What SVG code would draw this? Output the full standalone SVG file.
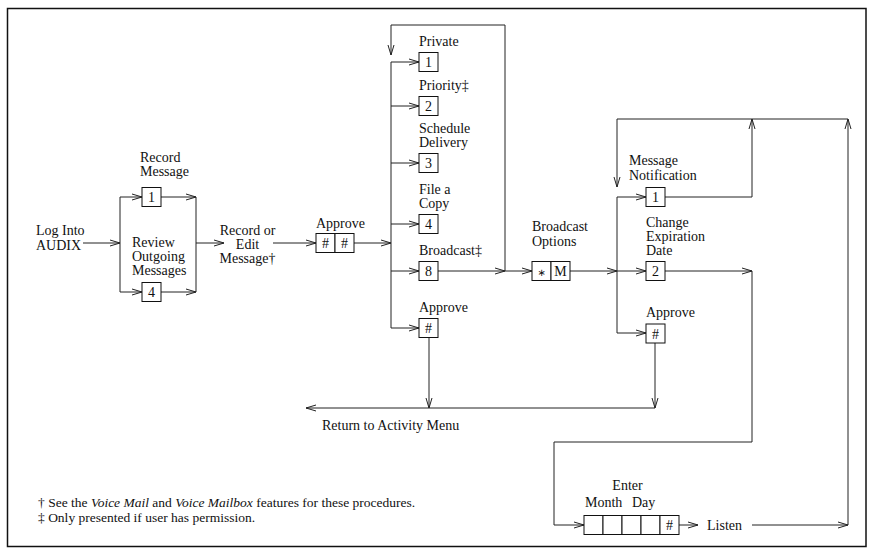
<svg xmlns="http://www.w3.org/2000/svg" width="874" height="554" viewBox="0 0 874 554">
<defs>
<style>
text{font-family:"Liberation Serif","Times New Roman",serif;font-size:14px;fill:#111}
.c{text-anchor:middle}
.fn{font-size:13.5px}
.box{fill:#fff;stroke:#111;stroke-width:1}
.ln{fill:none;stroke:#222;stroke-width:1}
</style>
<marker id="a" viewBox="-11 -4 12 8" refX="0" refY="0" markerWidth="12" markerHeight="8" orient="auto" markerUnits="userSpaceOnUse">
<path d="M-10,-3 L0,0 L-10,3" fill="none" stroke="#222" stroke-width="1"/>
</marker>
</defs>
<rect x="7.5" y="8.5" width="858.5" height="538" fill="#fff" stroke="#111" stroke-width="1.5"/>

<g id="connectors" class="ln">
<path d="M83,243 L120,243" marker-end="url(#a)"/>
<path d="M120,197 L120,292"/>
<path d="M120,197 L142,197" marker-end="url(#a)"/>
<path d="M120,292 L142,292" marker-end="url(#a)"/>
<path d="M161,197 L196,197" marker-end="url(#a)"/>
<path d="M161,292 L196,292" marker-end="url(#a)"/>
<path d="M196,197 L196,292"/>
<path d="M196,243 L224,243" marker-end="url(#a)"/>
<path d="M273,243 L316,243" marker-end="url(#a)"/>
<path d="M354,243 L391,243" marker-end="url(#a)"/>
<path d="M391,62 L391,328"/>
<path d="M391,62 L419,62" marker-end="url(#a)"/>
<path d="M391,106 L419,106" marker-end="url(#a)"/>
<path d="M391,163 L419,163" marker-end="url(#a)"/>
<path d="M391,224 L419,224" marker-end="url(#a)"/>
<path d="M391,271 L419,271" marker-end="url(#a)"/>
<path d="M391,328 L419,328" marker-end="url(#a)"/>
<path d="M438,271 L505,271" marker-end="url(#a)"/>
<path d="M505,271 L532,271" marker-end="url(#a)"/>
<path d="M505,271 L505,25 L391,25 L391,55" marker-end="url(#a)"/>
<path d="M429,337.5 L429,408" marker-end="url(#a)"/>
<path d="M655,408 L306,408" marker-end="url(#a)"/>
<path d="M570,271 L617,271" marker-end="url(#a)"/>
<path d="M617,271 L646,271" marker-end="url(#a)"/>
<path d="M617,197 L617,333"/>
<path d="M617,197 L646,197" marker-end="url(#a)"/>
<path d="M617,333 L646,333" marker-end="url(#a)"/>
<path d="M665,197 L752,197 L752,119" marker-end="url(#a)"/>
<path d="M848,119 L617,119 L617,187" marker-end="url(#a)"/>
<path d="M665,271 L752,271" marker-end="url(#a)"/>
<path d="M752,271 L752,442 L554,442 L554,525 L584,525" marker-end="url(#a)"/>
<path d="M655,343 L655,408" marker-end="url(#a)"/>
<path d="M679,525 L698,525" marker-end="url(#a)"/>
<path d="M752,525 L848,525" marker-end="url(#a)"/>
<path d="M848,525 L848,119" marker-end="url(#a)"/>
</g>

<g id="login"><text x="36" y="235">Log Into</text><text x="36" y="250">AUDIX</text></g>

<g id="record-message">
<text x="140" y="162">Record</text><text x="140" y="176">Message</text>
<rect class="box" x="142" y="187.5" width="19" height="19"/><text class="c" x="151.5" y="202">1</text>
</g>
<g id="review-outgoing">
<text x="132" y="247">Review</text><text x="132" y="261">Outgoing</text><text x="132" y="275">Messages</text>
<rect class="box" x="142" y="282.5" width="19" height="19"/><text class="c" x="151.5" y="297">4</text>
</g>
<g id="record-edit"><text class="c" x="247.5" y="235">Record or</text><text class="c" x="247.5" y="249">Edit</text><text class="c" x="247.5" y="263">Message†</text></g>
<g id="approve1">
<text x="316" y="228">Approve</text>
<rect class="box" x="316" y="233.5" width="19" height="19"/><text class="c" x="325.5" y="248">#</text>
<rect class="box" x="335" y="233.5" width="19" height="19"/><text class="c" x="344.5" y="248">#</text>
</g>

<g id="private"><text x="419" y="46">Private</text><rect class="box" x="419" y="52.5" width="19" height="19"/><text class="c" x="428.5" y="67">1</text></g>
<g id="priority"><text x="419" y="90">Priority‡</text><rect class="box" x="419" y="96.5" width="19" height="19"/><text class="c" x="428.5" y="111">2</text></g>
<g id="schedule"><text x="419" y="133">Schedule</text><text x="419" y="147">Delivery</text><rect class="box" x="419" y="153.5" width="19" height="19"/><text class="c" x="428.5" y="168">3</text></g>
<g id="filecopy"><text x="419" y="194">File a</text><text x="419" y="208">Copy</text><rect class="box" x="419" y="214.5" width="19" height="19"/><text class="c" x="428.5" y="229">4</text></g>
<g id="broadcast"><text x="419" y="255">Broadcast‡</text><rect class="box" x="419" y="261.5" width="19" height="19"/><text class="c" x="428.5" y="276">8</text></g>
<g id="approve2"><text x="419" y="312">Approve</text><rect class="box" x="419" y="318.5" width="19" height="19"/><text class="c" x="428.5" y="333">#</text></g>

<g id="broadcast-options">
<text x="532" y="231">Broadcast</text><text x="532" y="246">Options</text>
<rect class="box" x="532" y="261.5" width="19" height="19"/><text class="c" x="541.5" y="276" style="font-family:'DejaVu Sans',sans-serif;font-size:10px">∗</text>
<rect class="box" x="551" y="261.5" width="19" height="19"/><text class="c" x="560.5" y="276">M</text>
</g>

<g id="msg-notification"><text x="629" y="165">Message</text><text x="629" y="180">Notification</text><rect class="box" x="646" y="187.5" width="19" height="19"/><text class="c" x="655.5" y="202">1</text></g>
<g id="change-expiration"><text x="646" y="227">Change</text><text x="646" y="241">Expiration</text><text x="646" y="255">Date</text><rect class="box" x="646" y="261.5" width="19" height="19"/><text class="c" x="655.5" y="276">2</text></g>
<g id="approve3"><text x="646" y="317">Approve</text><rect class="box" x="646" y="324" width="19" height="19"/><text class="c" x="655.5" y="338.5">#</text></g>

<g id="return"><text x="322" y="430">Return to Activity Menu</text></g>

<g id="enter-date">
<text class="c" x="627.5" y="490">Enter</text>
<text x="585" y="507">Month</text><text x="632" y="507">Day</text>
<rect class="box" x="584" y="515.5" width="19" height="19"/>
<rect class="box" x="603" y="515.5" width="19" height="19"/>
<rect class="box" x="622" y="515.5" width="19" height="19"/>
<rect class="box" x="641" y="515.5" width="19" height="19"/>
<rect class="box" x="660" y="515.5" width="19" height="19"/><text class="c" x="669.5" y="530">#</text>
</g>
<g id="listen"><text x="707" y="530">Listen</text></g>

<g id="footnotes">
<text class="fn" x="38" y="507">† See the <tspan font-style="italic">Voice Mail</tspan> and <tspan font-style="italic">Voice Mailbox</tspan> features for these procedures.</text>
<text class="fn" x="38" y="522">‡ Only presented if user has permission.</text>
</g>
</svg>
